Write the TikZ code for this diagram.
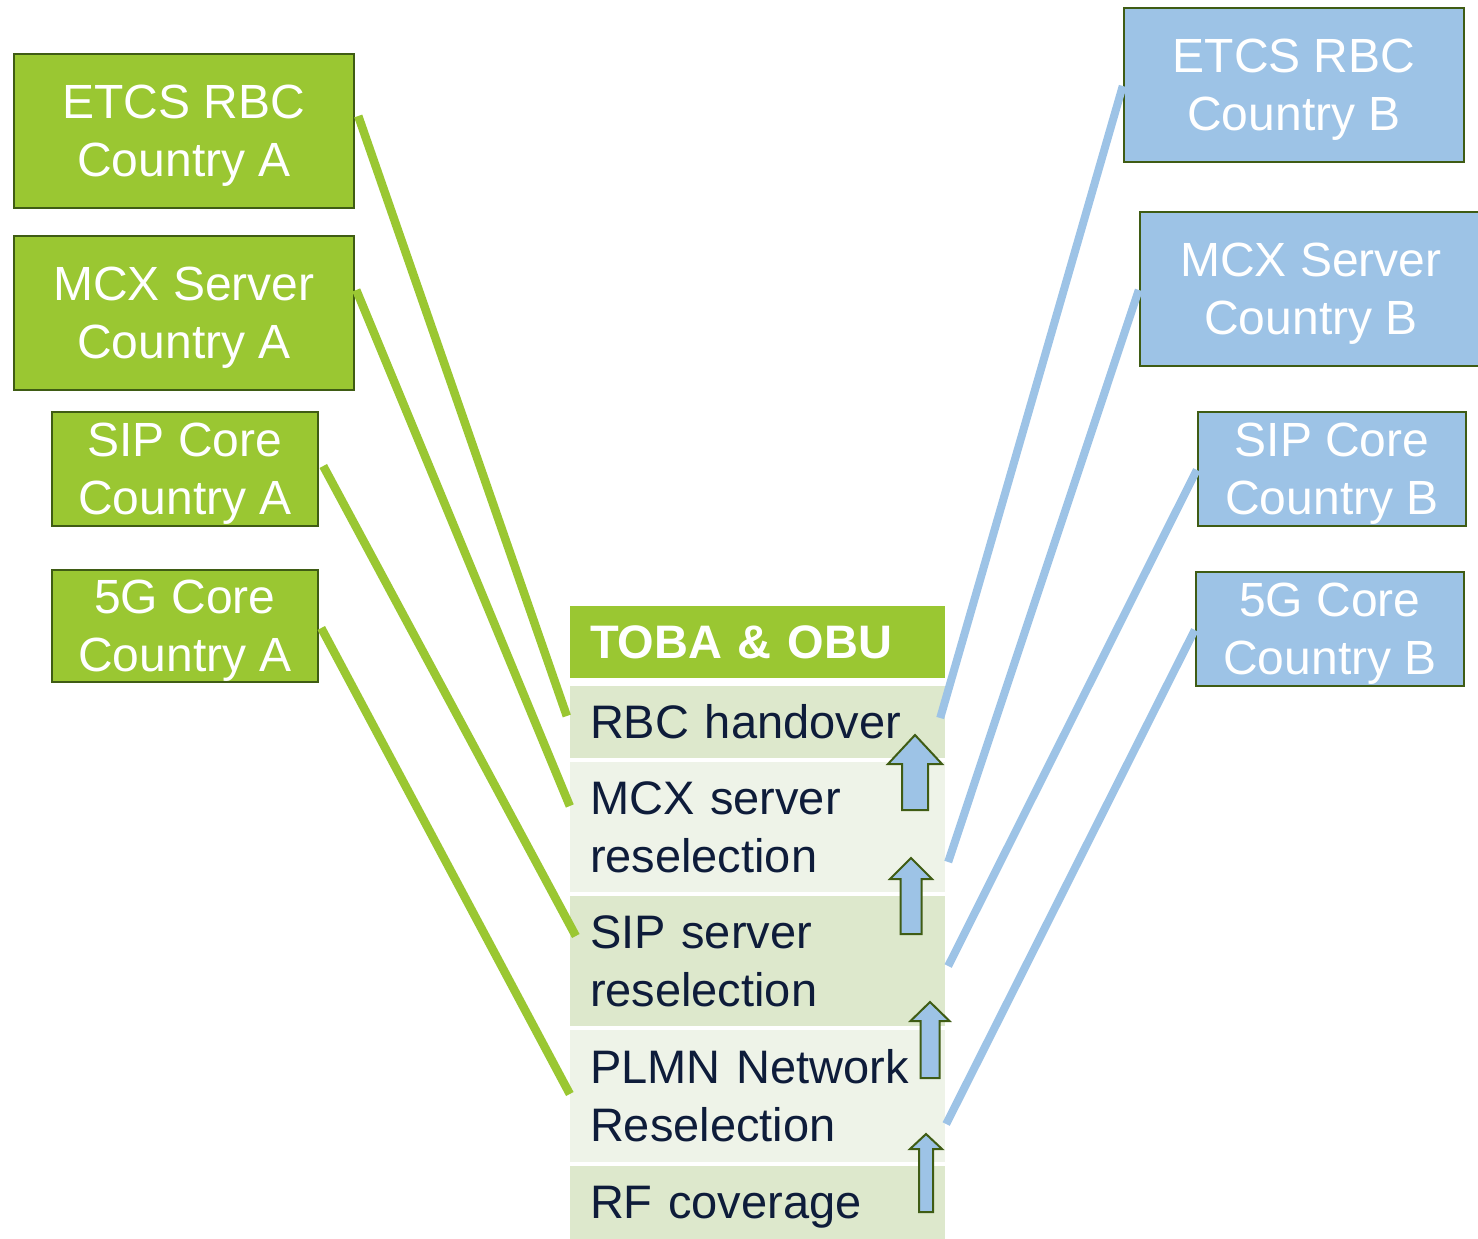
\documentclass[tikz,border=0pt]{standalone}
\usepackage{fontspec}
\setmainfont{Liberation Sans}
\usetikzlibrary{calc}
\definecolor{leafgreen}{RGB}{154,199,50}
\definecolor{darkolive}{RGB}{63,92,20}
\definecolor{skyblue}{RGB}{157,195,230}
\definecolor{rowdark}{RGB}{221,232,204}
\definecolor{rowlight}{RGB}{238,243,232}
\definecolor{navytext}{RGB}{14,28,58}
\tikzset{
  boxA/.style={draw=darkolive, line width=2.5pt, fill=leafgreen, text=white,
    align=center, inner sep=0pt, text depth=0pt, font=\fontsize{48}{58}\selectfont},
  boxB/.style={boxA, fill=skyblue},
  rowbox/.style={inner xsep=20pt, inner ysep=0pt, minimum width=375pt,
    text width=335pt, align=left, text=navytext,
    font=\fontsize{47}{58}\selectfont},
  linkA/.style={leafgreen, line width=8.5pt},
  linkB/.style={skyblue, line width=8pt},
  uparrow/.style={draw=darkolive, line width=2pt, fill=skyblue, line join=miter}
}
% block arrow pointing up: centre x, tip y, barb y, half head, half shaft, bottom y
\newcommand{\blockuparrow}[6]{%
  \draw[uparrow] (#1,#2) -- (#1+#4,#3) -- (#1+#5,#3) -- (#1+#5,#6)
    -- (#1-#5,#6) -- (#1-#5,#3) -- (#1-#4,#3) -- cycle;}
\begin{document}
\begin{tikzpicture}[x=1pt,y=-1pt]
\useasboundingbox (0,0) rectangle (1478,1239);
\begin{scope}
\clip (0,0) rectangle (1478,1239);
% country A servers
\node[boxA, minimum width=340pt, minimum height=154pt] (ga1) at (184,131) {ETCS RBC\\Country A};
\node[boxA, minimum width=340pt, minimum height=154pt] (ga2) at (184,313) {MCX Server\\Country A};
\node[boxA, minimum width=266pt, minimum height=114pt] (ga3) at (185,469) {SIP Core\\Country A};
\node[boxA, minimum width=266pt, minimum height=112pt] (ga4) at (185,626) {5G Core\\Country A};
% country B servers
\node[boxB, minimum width=340pt, minimum height=154pt] (gb1) at (1294,85) {ETCS RBC\\Country B};
\node[boxB, minimum width=342pt, minimum height=154pt] (gb2) at (1311,289) {MCX Server\\Country B};
\node[boxB, minimum width=268pt, minimum height=114pt] (gb3) at (1332,469) {SIP Core\\Country B};
\node[boxB, minimum width=268pt, minimum height=114pt] (gb4) at (1330,629) {5G Core\\Country B};
% TOBA & OBU stack
\node[rowbox, fill=leafgreen, text=white, minimum height=72pt,
  font=\fontsize{47}{58}\selectfont\bfseries] (hd) at (757.5,642) {TOBA \& OBU};
\node[rowbox, fill=rowdark, minimum height=72pt] (r1) at (757.5,722) {RBC handover};
\node[rowbox, fill=rowlight, minimum height=130pt] (r2) at (757.5,827) {MCX server\\reselection};
\node[rowbox, fill=rowdark, minimum height=130pt] (r3) at (757.5,961) {SIP server\\reselection};
\node[rowbox, fill=rowlight, minimum height=132pt] (r4) at (757.5,1096) {PLMN Network\\Reselection};
\node[rowbox, fill=rowdark, minimum height=73pt, text depth=0pt] (r5) at (757.5,1202.5) {RF coverage};
% links to country A
\draw[linkA] ([xshift=3pt,yshift=15pt]ga1.east) -- ([xshift=-3pt,yshift=6pt]r1.west);
\draw[linkA] ([xshift=1pt,yshift=23pt]ga2.east) -- ([yshift=21pt]r2.west);
\draw[linkA] ([xshift=4pt,yshift=3pt]ga3.east) -- ([xshift=6pt,yshift=25pt]r3.west);
\draw[linkA] ([xshift=2pt,yshift=-2pt]ga4.east) -- ([yshift=2pt]r4.west);
% links to country B
\draw[linkB] ([yshift=-1pt]gb1.west) -- ([xshift=-5pt,yshift=4pt]r1.east);
\draw[linkB] ([yshift=-1pt]gb2.west) -- ([xshift=3pt,yshift=-35pt]r2.east);
\draw[linkB] ([yshift=-1pt]gb3.west) -- ([xshift=3pt,yshift=-5pt]r3.east);
\draw[linkB] ([yshift=-1pt]gb4.west) -- ([xshift=1pt,yshift=-28pt]r4.east);
% layer transition arrows
\blockuparrow{915}{735}{764}{27}{13}{810}
\blockuparrow{911}{858}{879}{21}{10.5}{934}
\blockuparrow{930}{1002}{1021}{19.5}{9.5}{1078}
\blockuparrow{926}{1134}{1149}{16}{7}{1212}
\end{scope}
\end{tikzpicture}
\end{document}
